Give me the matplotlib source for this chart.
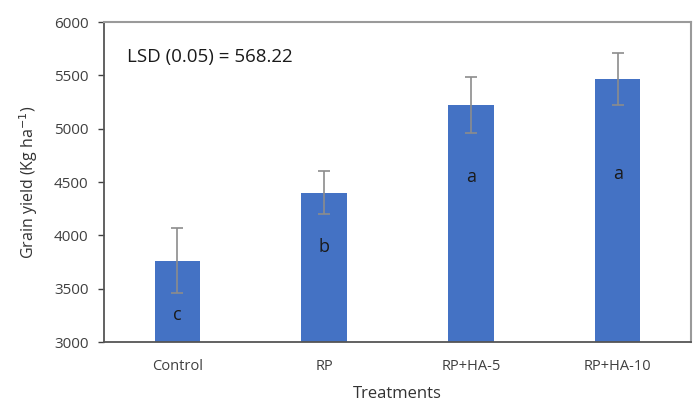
import numpy as np
from matplotlib import pyplot as plt

plt.rcParams['font.family'] = ['Open Sans', 'DejaVu Sans']

treatments = ['Control', 'RP', 'RP+HA-5', 'RP+HA-10']
grain_yield = [3760, 4400, 5222, 5466]
yield_err = [305, 200, 262, 244]
letters = ['c', 'b', 'a', 'a']
letter_y = [3250, 3890, 4545, 4575]

fig = plt.figure(figsize=(6.97, 4.04), dpi=100)
ax = fig.add_axes([104/697, 1 - 342/404, 587/697, 320/404])

x = np.arange(len(treatments))
ax.bar(x, grain_yield, width=0.31, color='#4472C4', zorder=2)
ax.errorbar(x, grain_yield, yerr=yield_err, fmt='none', ecolor='#8c8c8c',
            elinewidth=1.2, capsize=4, capthick=1.2, zorder=3)

# significance letters inside the bars
for xi, lab, ly in zip(x, letters, letter_y):
    ax.text(xi, ly, lab, ha='center', va='center', fontsize=13, color='#1a1a1a', zorder=4)

ax.text(0.04, 0.89, 'LSD (0.05) = 568.22', transform=ax.transAxes,
        fontsize=13.5, color='#1a1a1a', ha='left', va='center')

ax.set_xlim(-0.5, 3.5)
ax.set_ylim(3000, 6000)
ax.set_yticks(np.arange(3000, 6001, 500))
ax.set_xticks(x)
ax.set_xticklabels(treatments)
ax.tick_params(axis='x', length=0, pad=12, labelsize=10.5, colors='#404040')
ax.tick_params(axis='y', length=4, width=1, labelsize=11, colors='#404040', pad=7)

for side in ['top', 'right']:
    ax.spines[side].set_color('#9a9a9a')
    ax.spines[side].set_linewidth(1.5)
for side in ['left', 'bottom']:
    ax.spines[side].set_color('#555555')
    ax.spines[side].set_linewidth(1.3)

ax.set_ylabel('Grain yield (Kg ha$^{-1}$)', fontsize=11.5, color='#333333', labelpad=10)
ax.set_xlabel('Treatments', fontsize=12, color='#333333', labelpad=9)

plt.savefig('out.png', dpi=100)
